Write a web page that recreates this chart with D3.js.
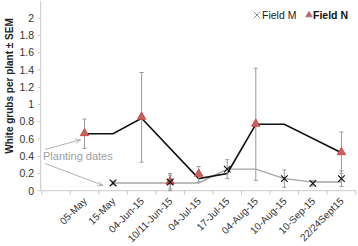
<!DOCTYPE html>
<html><head><meta charset="utf-8">
<script src="https://cdn.jsdelivr.net/npm/d3@7"></script>
<style>body{margin:0;background:#fff;}svg{display:block;font-family:Arial,"Liberation Sans",sans-serif;}</style>
</head><body><svg id="c" width="358" height="246"></svg>
<script>
const categories = ["", "05-May", "15-May", "04-Jun-15", "10/11-Jun-15", "04-Jul-15", "17-Jul-15", "04-Aug-15", "10-Aug-15", "10-Sep-15", "22/24Sept15"];
// trend lines (null = no value, line connects across)
const lineN = [null, 0.66, 0.66, 0.84, null, 0.14, 0.20, 0.77, 0.77, null, 0.44];
const lineM = [null, null, 0.09, 0.09, 0.09, 0.09, 0.25, 0.25, 0.14, 0.10, 0.10];
// markers with SEM
const fieldN = [null, 0.66, null, 0.85, 0.10, 0.19, null, 0.77, null, null, 0.44];
const semN   = [null, 0.17, null, 0.52, 0.10, 0.09, null, 0.65, null, null, 0.24];
const fieldM = [null, null, 0.09, null, 0.10, null, 0.25, null, 0.14, 0.085, 0.14];
const semM   = [null, null, 0.02, null, 0.08, null, 0.11, null, 0.10, 0.03, 0.09];
const yTicks = [0, 0.2, 0.4, 0.6, 0.8, 1, 1.2, 1.4, 1.6, 1.8, 2];

const svg = d3.select("#c");
const x = d3.scaleBand().domain(categories).range([41.7, 355.7]);
const y = d3.scaleLinear().domain([0, 2.2]).range([190.7, 0.9]);
const cx = c => x(c) + x.bandwidth() / 2;

// y axis
svg.append("line").attr("x1", 40.7).attr("x2", 40.7).attr("y1", y(2.2)).attr("y2", y(0))
  .attr("stroke", "#c8c8c8");
svg.selectAll(".ytk").data(yTicks).enter().append("line")
  .attr("x1", 37.5).attr("x2", 40.7).attr("y1", d => y(d)).attr("y2", d => y(d)).attr("stroke", "#c8c8c8");
svg.selectAll(".yt").data(yTicks).enter().append("text")
  .attr("x", 34).attr("y", d => y(d) + 3.8).attr("text-anchor", "end")
  .attr("font-size", 10.5).attr("fill", "#333").text(d => d3.format("~g")(d));
svg.append("text").attr("transform", `translate(13,86) rotate(-90)`)
  .attr("text-anchor", "middle").attr("font-size", 10).attr("font-weight", "bold")
  .attr("fill", "#222").text("White grubs per plant ± SEM");

// x axis
svg.append("line").attr("x1", x.range()[0]).attr("x2", x.range()[1]).attr("y1", y(0)).attr("y2", y(0))
  .attr("stroke", "#c8c8c8");
const bounds = categories.map(c => x(c)).concat([x.range()[1]]);
svg.selectAll(".xt").data(bounds).enter().append("line")
  .attr("x1", d => d).attr("x2", d => d).attr("y1", y(0)).attr("y2", y(0) + 4).attr("stroke", "#c8c8c8");
svg.selectAll(".xl").data(categories.filter(c => c)).enter().append("text")
  .attr("transform", c => `translate(${cx(c) + 3},${y(0) + 11}) rotate(-45)`)
  .attr("text-anchor", "end").attr("font-size", 10).attr("fill", "#333").text(c => c);

// lines
function linePts(vals) {
  return categories.map((c, i) => ({c, v: vals[i]})).filter(d => d.v !== null);
}
const lg = d3.line().x(d => cx(d.c)).y(d => y(d.v));
svg.append("path").datum(linePts(lineM)).attr("d", lg).attr("fill", "none")
  .attr("stroke", "#a6a6a6").attr("stroke-width", 1.4);
svg.append("path").datum(linePts(lineN)).attr("d", lg).attr("fill", "none")
  .attr("stroke", "#111").attr("stroke-width", 1.6);

// error bars
function errBars(vals, sems) {
  const pts = categories.map((c, i) => ({c, v: vals[i], s: sems[i]})).filter(d => d.v !== null);
  const g = svg.append("g").attr("stroke", "#9a9a9a").attr("stroke-width", 1);
  pts.forEach(d => {
    const lo = y(Math.max(0, d.v - d.s)), hi = y(d.v + d.s), xc = cx(d.c);
    g.append("line").attr("x1", xc).attr("x2", xc).attr("y1", lo).attr("y2", hi);
    g.append("line").attr("x1", xc - 2).attr("x2", xc + 2).attr("y1", lo).attr("y2", lo);
    g.append("line").attr("x1", xc - 2).attr("x2", xc + 2).attr("y1", hi).attr("y2", hi);
  });
  return pts;
}
const ptsM = errBars(fieldM, semM);
const ptsN = errBars(fieldN, semN);

const tri = d3.symbol().type(d3.symbolTriangle).size(30);
svg.selectAll(".tn").data(ptsN).enter().append("path").attr("d", tri)
  .attr("transform", d => `translate(${cx(d.c)},${y(d.v) - 0.5})`)
  .attr("fill", "#b46a6a").attr("stroke", "#e0413c").attr("stroke-width", 1);
function xMark(g, xc, yc, r, col, w) {
  g.append("path").attr("d", `M${xc - r},${yc - r}L${xc + r},${yc + r}M${xc - r},${yc + r}L${xc + r},${yc - r}`)
    .attr("stroke", col).attr("stroke-width", w).attr("fill", "none");
}
ptsM.forEach(d => xMark(svg, cx(d.c), y(d.v), 3.3, "#111", 1.2));

// legend
xMark(svg, 257, 15, 3.3, "#888", 0.9);
svg.append("text").attr("x", 262).attr("y", 19).attr("font-size", 10.5).attr("fill", "#222").text("Field M");
svg.append("path").attr("d", d3.symbol().type(d3.symbolTriangle).size(18)).attr("transform", "translate(309,15)")
  .attr("fill", "#b46a6a").attr("stroke", "#c05050").attr("stroke-width", 0.6);
svg.append("text").attr("x", 313).attr("y", 19).attr("font-size", 10.5).attr("font-weight", "bold").attr("fill", "#111").text("Field N");

// annotation
const ann = svg.append("g");
ann.append("text").attr("x", 43).attr("y", 159.5).attr("font-size", 11).attr("fill", "#a0a0a0").text("Planting dates");
const defs = svg.append("defs");
defs.append("marker").attr("id", "ah").attr("viewBox", "0 0 10 10").attr("refX", 9).attr("refY", 5)
  .attr("markerWidth", 7).attr("markerHeight", 7).attr("orient", "auto")
  .append("path").attr("d", "M0,1L9,5L0,9").attr("fill", "none").attr("stroke", "#a8a8a8").attr("stroke-width", 1.2);
const p1 = {x: cx("05-May") - 4, y: y(0.66) + 6};
const p2 = {x: cx("15-May") - 10, y: y(0.09) + 2.5};
ann.append("line").attr("x1", 45).attr("y1", 149.5).attr("x2", p1.x).attr("y2", p1.y)
  .attr("stroke", "#a8a8a8").attr("stroke-width", 0.9).attr("marker-end", "url(#ah)");
ann.append("line").attr("x1", 45).attr("y1", 163.5).attr("x2", p2.x).attr("y2", p2.y)
  .attr("stroke", "#a8a8a8").attr("stroke-width", 0.9).attr("marker-end", "url(#ah)");
</script></body></html>
